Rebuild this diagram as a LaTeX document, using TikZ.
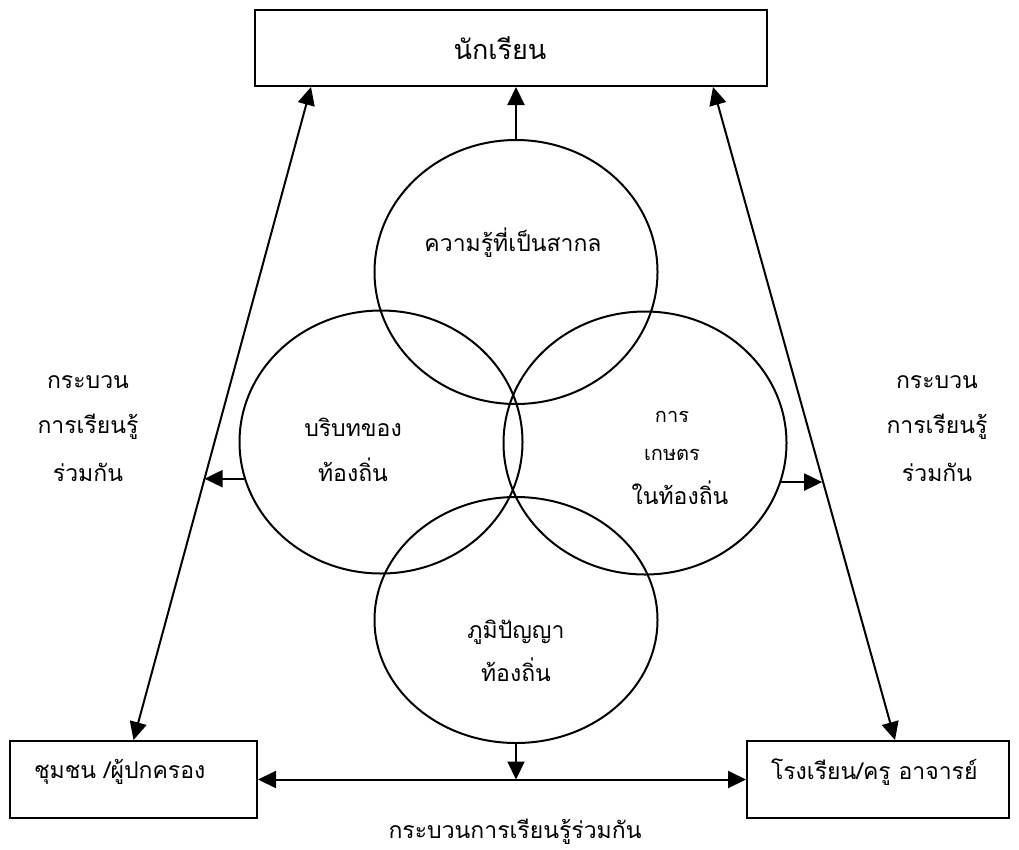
\documentclass[tikz,border=0pt]{standalone}
\usepackage{fontspec}
\newfontfamily\thaifont[Script=Thai]{Loma}
\usetikzlibrary{arrows.meta,shapes.geometric,calc}
\begin{document}
\begin{tikzpicture}[x=1pt,y=-1pt,
  line width=2pt,
  boxnode/.style={draw,rectangle,inner sep=0pt},
  circnode/.style={draw,ellipse,inner sep=0pt,minimum width=283pt},
  txt/.style={font=\thaifont\fontsize{23}{27}\selectfont,inner sep=0pt},
  bigtxt/.style={font=\thaifont\fontsize{27}{31}\selectfont,inner sep=0pt},
  smalltxt/.style={font=\thaifont\fontsize{20}{24}\selectfont,inner sep=0pt},
  arr/.style={-{Triangle[length=18pt,width=17pt]}},
  darr/.style={{Triangle[length=18pt,width=17pt]}-{Triangle[length=18pt,width=17pt]}}]
\useasboundingbox (0,0) rectangle (1019,849);
% boxes
\node[boxnode,minimum width=512pt,minimum height=76pt] (topbox) at (511,48) {};
\node[boxnode,minimum width=247pt,minimum height=77pt] (lbox) at (133.5,779.5) {};
\node[boxnode,minimum width=262pt,minimum height=77pt] (rbox) at (878,779.5) {};
% circles
\node[circnode,minimum height=264pt] (ctop) at (516,272) {};
\node[circnode,minimum height=263pt] (cleft) at (381,442) {};
\node[circnode,minimum height=263pt] (cright) at (645,443) {};
\node[circnode,minimum height=246pt] (cbot) at (516,620) {};
% texts
\node[bigtxt] (ttop) at (500,48) {นักเรียน};
\node[txt,anchor=west] (tlbox) at (33,772) {ชุมชน /ผู้ปกครอง};
\node[txt,anchor=west] (trbox) at (770,772) {โรงเรียน/ครู อาจารย์};
\node[txt] (t1) at (513,243) {ความรู้ที่เป็นสากล};
\node[txt] (t2a) at (353,427) {บริบทของ};
\node[txt] (t2b) at (353,470) {ท้องถิ่น};
\node[smalltxt] (t3a) at (672,417) {การ};
\node[smalltxt] (t3b) at (672,455) {เกษตร};
\node[txt] (t3c) at (680,493) {ในท้องถิ่น};
\node[txt] (t4a) at (516,632) {ภูมิปัญญา};
\node[txt] (t4b) at (516,670) {ท้องถิ่น};
\node[txt] (ll1) at (88,382) {กระบวน};
\node[txt] (ll2) at (88,427) {การเรียนรู้};
\node[txt] (ll3) at (88,472) {ร่วมกัน};
\node[txt] (rl1) at (937,382) {กระบวน};
\node[txt] (rl2) at (937,427) {การเรียนรู้};
\node[txt] (rl3) at (937,472) {ร่วมกัน};
\node[txt] (bl) at (515,832) {กระบวนการเรียนรู้ร่วมกัน};
% connector end points
\coordinate (ltop) at ([xshift=57pt]topbox.south west);
\coordinate (rtop) at ([xshift=-55pt]topbox.south east);
\coordinate (lbot) at (lbox.north);
\coordinate (rbot) at ([xshift=17pt]rbox.north);
\coordinate (lside) at ($(lbot)!0.4!(ltop)$);
\coordinate (rside) at ($(rbot)!0.4!(rtop)$);
% connectors
\draw[darr] (lbot) -- (ltop);
\draw[darr] (rbot) -- (rtop);
\draw[darr] (lbox.east) -- (rbox.west);
\draw[arr] (ctop.north) -- (ctop.north |- topbox.south);
\draw[arr] (cbot.south) -- (cbot.south |- lbox.east);
\draw[arr] (cleft.195.5) -- (cleft.195.5 -| lside);
\draw[arr] (cright.344.5) -- (cright.344.5 -| rside);
\end{tikzpicture}
\end{document}
